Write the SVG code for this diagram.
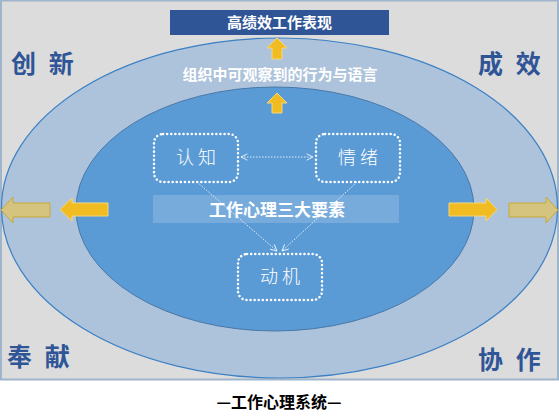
<svg xmlns="http://www.w3.org/2000/svg" width="559" height="416" viewBox="0 0 559 416">
<defs>
<style>
.corner{font-family:"Noto Sans CJK SC","Noto Sans",sans-serif;font-weight:bold;font-size:25px;fill:#2f5597;word-spacing:7px}
.wt{font-family:"Noto Sans CJK SC","Noto Sans",sans-serif;fill:#fff;text-anchor:middle}
.node rect{fill:none;stroke:#fff;stroke-width:2.5;stroke-dasharray:0.1 4;stroke-linecap:round}
.node text{font-size:18px;font-weight:300}
.conn{stroke:#fff;stroke-width:0.8;stroke-dasharray:1.5 1.5;fill:none}
.yin{fill:#f0bc22;stroke:#f5d67a;stroke-width:1}
.yout{fill:#d4c47e;stroke:#c9a73a;stroke-width:1}
</style>
<marker id="ah" viewBox="0 0 10 10" refX="9" refY="5" markerWidth="8" markerHeight="8" orient="auto-start-reverse" markerUnits="userSpaceOnUse">
<path d="M1 1 L9 5 L1 9" fill="none" stroke="#fff" stroke-width="1"/>
</marker>
</defs>
<rect x="1" y="0.5" width="557" height="379" fill="#dcdcdc" stroke="#9fb5cc" stroke-width="2"/>
<ellipse cx="279.5" cy="208" rx="278" ry="170" fill="#adc3db" stroke="#3c80c4" stroke-width="1.2"/>
<ellipse cx="275" cy="209" rx="199" ry="122" fill="#5b9bd5" stroke="#4a78a8" stroke-width="1"/>
<g id="title">
<rect x="170" y="10" width="219" height="25" fill="#2f5597"/>
<text class="wt" x="279.5" y="28" font-size="15" font-weight="bold">高绩效工作表现</text>
</g>
<g id="behavior">
<text class="wt" x="280" y="80" font-size="15" font-weight="bold">组织中可观察到的行为与语言</text>
</g>
<g id="arrows">
<path class="yin" d="M277 38 L287 48 L282 48 L282 59 L272 59 L272 48 L267 48 Z"/>
<path class="yin" d="M277 93 L287 103 L282 103 L282 113 L272 113 L272 103 L267 103 Z"/>
<path class="yin" d="M60 209.5 L72 198 L72 203 L108 203 L108 216 L72 216 L72 221 Z"/>
<path class="yout" d="M1 210 L13 197 L13 203 L50 203 L50 217 L13 217 L13 223 Z"/>
<path class="yin" d="M497 209.5 L486 198 L486 203 L449 203 L449 216 L486 216 L486 221 Z"/>
<path class="yout" d="M558 210 L546 197 L546 203 L509 203 L509 217 L546 217 L546 223 Z"/>
</g>
<g id="band">
<rect x="153" y="195" width="246" height="28" fill="#ffffff" fill-opacity="0.17"/>
<text class="wt" x="277" y="216" font-size="17" font-weight="bold">工作心理三大要素</text>
</g>
<g id="connectors">
<line class="conn" x1="241" y1="157" x2="313" y2="157" marker-start="url(#ah)" marker-end="url(#ah)"/>
<line class="conn" x1="197" y1="182" x2="277" y2="251" marker-end="url(#ah)"/>
<line class="conn" x1="357" y1="182" x2="282" y2="251" marker-end="url(#ah)"/>
</g>
<g id="node-renzhi" class="node">
<rect x="154" y="134" width="84" height="48" rx="9"/>
<text class="wt" x="196" y="164">认 知</text>
</g>
<g id="node-qingxu" class="node">
<rect x="316" y="134" width="84" height="48" rx="9"/>
<text class="wt" x="358" y="164">情 绪</text>
</g>
<g id="node-dongji" class="node">
<rect x="238" y="254" width="84" height="46" rx="9"/>
<text class="wt" x="280" y="283">动 机</text>
</g>
<g id="corners">
<text class="corner" x="11" y="73">创 新</text>
<text class="corner" x="478" y="73">成 效</text>
<text class="corner" x="7" y="366">奉 献</text>
<text class="corner" x="478" y="369">协 作</text>
</g>
<g id="caption">
<text x="279" y="408" font-family="Noto Sans CJK SC, sans-serif" font-size="16" font-weight="bold" text-anchor="middle" fill="#000">—工作心理系统—</text>
</g>
</svg>
